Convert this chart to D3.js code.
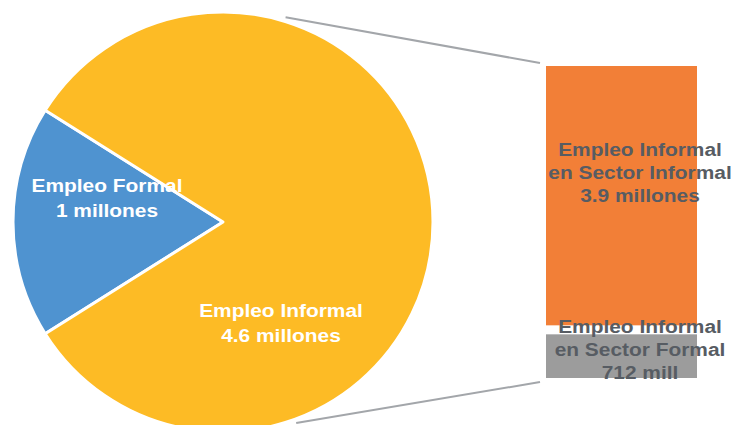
<!DOCTYPE html>
<html>
<head>
<meta charset="utf-8">
<script src="https://cdn.jsdelivr.net/npm/d3@7"></script>
<style>
  body { margin: 0; background: #fff; }
  svg { display: block; }
</style>
</head>
<body>
<div id="chart"></div>
<script>
const width = 738;
const height = 425;

// pie: formal vs informal (millions)
const pieLabels = [["Empleo Formal", "1 millones"], ["Empleo Informal", "4.6 millones"]];
const pieValues = [1, 4.6];

// bar: split of informal employment
const barLabels = [
  ["Empleo Informal", "en Sector Informal", "3.9 millones"],
  ["Empleo Informal", "en Sector Formal", "712 mill"]
];
const barValues = [3.9, 0.712];

const pieColors = ["#4f93d0", "#fdbb25"];
const barColors = ["#f27f37", "#9c9c9c"];

const cx = 223, cy = 222, r = 210;

const svg = d3.select("#chart")
    .append("svg")
    .attr("width", width)
    .attr("height", height)
    .style("font-family", "'Liberation Sans', Arial, sans-serif")
    .style("font-weight", "bold");

const total = d3.sum(pieValues);
const formalAngle = pieValues[0] / total * 2 * Math.PI;

const pie = d3.pie()
    .sort(null)
    .startAngle(-Math.PI / 2 - formalAngle / 2)
    .endAngle(3 * Math.PI / 2 - formalAngle / 2);

const arc = d3.arc().innerRadius(0).outerRadius(r);

const g = svg.append("g").attr("transform", `translate(${cx},${cy})`);

g.selectAll("path")
    .data(pie(pieValues))
    .join("path")
    .attr("d", arc)
    .attr("fill", (d, i) => pieColors[i])
    .attr("stroke", "#fff")
    .attr("stroke-width", 3)
    .attr("stroke-linejoin", "round");

// pie labels
const pieLabelPos = [[-116, -30], [58, 95]];
pieLabels.forEach((lines, i) => {
  const t = g.append("text")
      .attr("text-anchor", "middle")
      .attr("fill", "#fff")
      .style("font-size", "19px")
      .attr("transform", `translate(${pieLabelPos[i][0]},${pieLabelPos[i][1]}) scale(1.1,1)`);
  lines.forEach((s, j) => {
    t.append("tspan").attr("x", 0).attr("y", j * 25).text(s);
  });
});

// bar of informal
const barX0 = 546, barX1 = 697, barTop = 66, barBottom = 378;
const barTotal = d3.sum(barValues);
const y = d3.scaleLinear().domain([0, barTotal]).range([barTop, barBottom]);
const gap = 4.5;

const stacks = [];
let acc = 0;
barValues.forEach(v => { stacks.push([acc, acc + v]); acc += v; });

svg.selectAll("rect.bar")
    .data(stacks)
    .join("rect")
    .attr("class", "bar")
    .attr("x", barX0)
    .attr("width", barX1 - barX0)
    .attr("y", (d, i) => y(d[0]) + (i > 0 ? gap : 0))
    .attr("height", (d, i) => y(d[1]) - y(d[0]) - gap)
    .attr("fill", (d, i) => barColors[i]);

// connector lines
const a0 = 17 * Math.PI / 180, a1 = Math.PI - 20 * Math.PI / 180;
const rl = r + 4;
const connectors = [
  [[cx + rl * Math.sin(a0), cy - rl * Math.cos(a0)], [barX0 - 6, barTop - 3]],
  [[cx + rl * Math.sin(a1), cy - rl * Math.cos(a1)], [barX0 - 6, barBottom + 4]]
];
svg.selectAll("line.conn")
    .data(connectors)
    .join("line")
    .attr("class", "conn")
    .attr("x1", d => d[0][0]).attr("y1", d => d[0][1])
    .attr("x2", d => d[1][0]).attr("y2", d => d[1][1])
    .attr("stroke", "#a3a6aa")
    .attr("stroke-width", 2);

// bar labels
const barLabelY = [156, 333];
barLabels.forEach((lines, i) => {
  const t = svg.append("text")
      .attr("text-anchor", "middle")
      .attr("fill", "#575c63")
      .style("font-size", "19px")
      .attr("transform", `translate(640,${barLabelY[i]}) scale(1.1,1)`);
  lines.forEach((s, j) => {
    t.append("tspan").attr("x", 0).attr("y", j * 23).text(s);
  });
});
</script>
</body>
</html>
